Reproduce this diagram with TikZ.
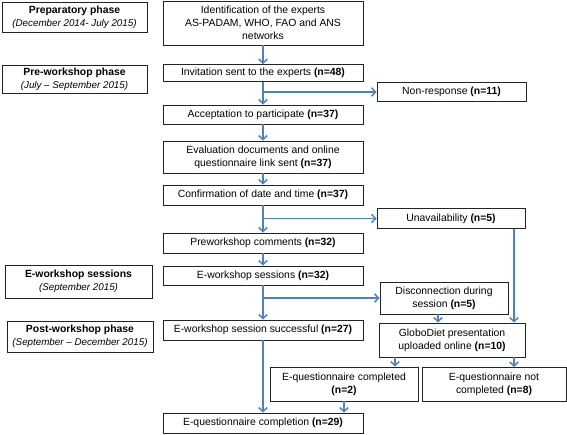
\documentclass[tikz,border=0pt]{standalone}
\usepackage{fontspec}
\setmainfont{Liberation Sans}
\usetikzlibrary{arrows.meta}
\definecolor{ArrowClr}{RGB}{79,129,189}
\definecolor{BoxClr}{RGB}{35,35,35}
\newcommand{\phasedate}{\fontsize{9.8}{11.5}\selectfont\itshape}

\begin{document}
\begin{tikzpicture}[x=1pt,y=-1pt,
  box/.style={draw=BoxClr,line width=0.9pt,align=center,inner sep=0pt,font=\fontsize{10.4}{12.8}\selectfont},
  phasebox/.style={box},
  stepbox/.style={box,minimum width=200pt},
  flow/.style={draw=ArrowClr,line width=1.5pt,-{Straight Barb[length=4pt,width=8.5pt]}}]
\useasboundingbox (0,0) rectangle (567,434);

\node[phasebox,minimum width=145pt,minimum height=30pt] (prep) at (74.5,17) {\textbf{Preparatory phase}\\{\phasedate (December 2014- July 2015)}};
\node[phasebox,minimum width=145pt,minimum height=28pt] (prew) at (74.5,79) {\textbf{Pre-workshop phase}\\{\phasedate (July -- September 2015)}};
\node[phasebox,minimum width=147pt,minimum height=33pt] (esess) at (78.5,281.5) {\textbf{E-workshop sessions}\\{\phasedate (September 2015)}};
\node[phasebox,minimum width=146pt,minimum height=31pt] (post) at (80,336.5) {\textbf{Post-workshop phase}\\{\phasedate (September -- December 2015)}};

\node[stepbox,minimum height=44pt] (ident) at (263,23) {Identification of the experts\\AS-PADAM, WHO, FAO and ANS\\networks};
\node[stepbox,minimum height=17pt] (invit) at (263,73) {Invitation sent to the experts \textbf{(n=48)}};
\node[stepbox,minimum height=19pt] (accept) at (263,114.5) {Acceptation to participate \textbf{(n=37)}};
\node[stepbox,minimum height=32pt] (eval) at (263,157) {Evaluation documents and online\\questionnaire link sent \textbf{(n=37)}};
\node[stepbox,minimum height=20pt] (confirm) at (263,195) {Confirmation of date and time \textbf{(n=37)}};
\node[stepbox,minimum height=20pt] (precomm) at (263,243) {Preworkshop comments \textbf{(n=32)}};
\node[stepbox,minimum height=19pt] (esw) at (263,275.5) {E-workshop sessions \textbf{(n=32)}};
\node[stepbox,minimum height=20pt] (success) at (263,330) {E-workshop session successful \textbf{(n=27)}};
\node[stepbox,minimum height=20pt] (complete) at (263,423) {E-questionnaire completion \textbf{(n=29)}};

\node[box,minimum width=149pt,minimum height=19pt] (nonresp) at (451.5,92) {Non-response \textbf{(n=11)}};
\node[box,minimum width=148pt,minimum height=20pt] (unavail) at (451,218.5) {Unavailability \textbf{(n=5)}};
\node[box,minimum width=128pt,minimum height=32pt] (disconn) at (444,298) {Disconnection during\\session \textbf{(n=5)}};
\node[box,minimum width=146pt,minimum height=34pt] (globo) at (452,340) {GloboDiet presentation\\uploaded online \textbf{(n=10)}};
\node[box,minimum width=148pt,minimum height=34pt] (done) at (344,384) {E-questionnaire completed\\\textbf{(n=2)}};
\node[box,minimum width=144pt,minimum height=34pt] (notdone) at (494,384.5) {E-questionnaire not\\completed \textbf{(n=8)}};

\coordinate (nrsplit) at (invit.south |- nonresp.west);
\coordinate (unsplit) at (confirm.south |- unavail.west);
\coordinate (dcsplit) at (esw.south |- disconn.west);
\coordinate (lefttap) at (395,0);
\coordinate (midtap) at (438,0);
\coordinate (righttap) at (514,0);

\draw[flow] (ident.south) -- (invit.north);
\draw[flow] (invit.south) -- (accept.north);
\draw[flow] (nrsplit) -- (nonresp.west);
\draw[flow] (accept.south) -- (eval.north);
\draw[flow] (eval.south) -- (confirm.north);
\draw[flow] (confirm.south) -- (precomm.north);
\draw[flow] (unsplit) -- (unavail.west);
\draw[flow] (precomm.south) -- (esw.north);
\draw[flow] (esw.south) -- (success.north);
\draw[flow] (dcsplit) -- (disconn.west);

\draw[flow] (unavail.south -| righttap) -- (globo.north -| righttap);
\draw[flow] (disconn.south -| midtap) -- (globo.north -| midtap);
\draw[flow] (globo.south -| lefttap) -- (done.north -| lefttap);
\draw[flow] (globo.south -| righttap) -- (notdone.north -| righttap);

\draw[flow] (success.south) -- (complete.north);
\draw[flow] (done.south) -- (done.south |- complete.north);

\end{tikzpicture}
\end{document}
